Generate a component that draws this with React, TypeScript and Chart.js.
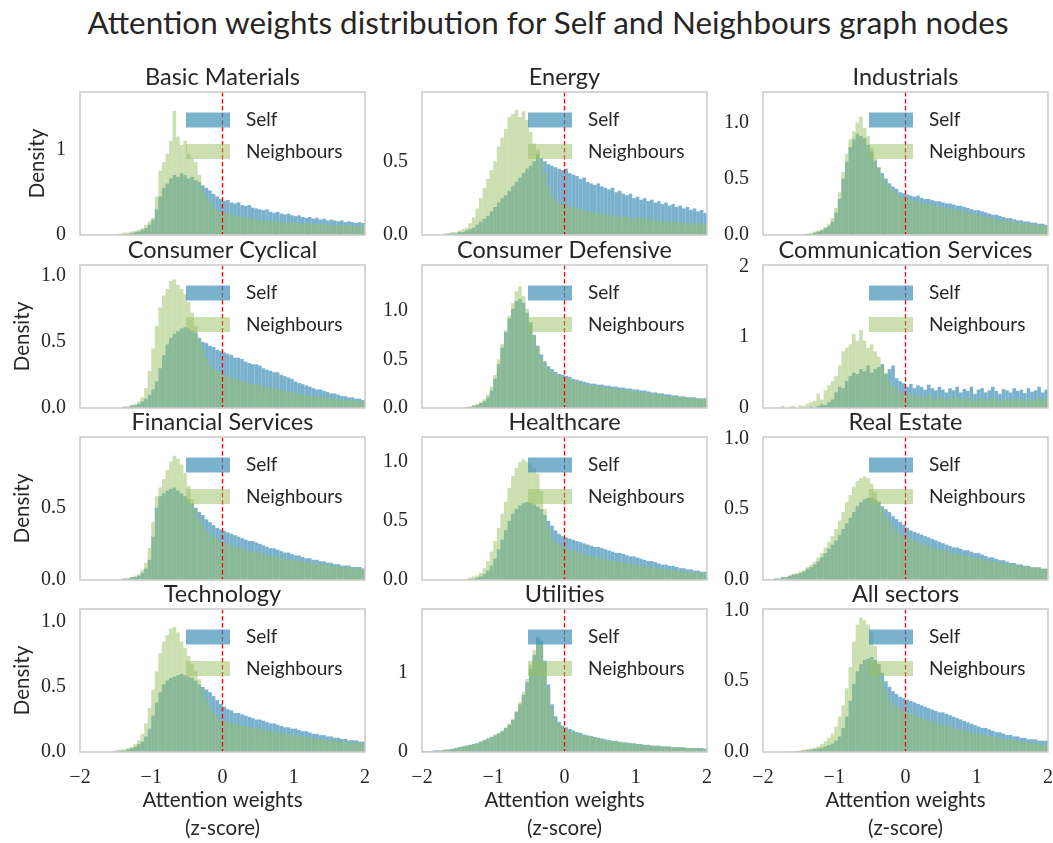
import React, { useEffect, useRef } from 'react';
import { Chart, registerables } from 'chart.js';

Chart.register(...registerables);

// ---------- data ----------
const binStart = -2;
const binWidth = 0.05;
const xMin = -2;
const xMax = 2;
const xStep = 1;

const sectorNames = [
  'Basic Materials', 'Energy', 'Industrials',
  'Consumer Cyclical', 'Consumer Defensive', 'Communication Services',
  'Financial Services', 'Healthcare', 'Real Estate',
  'Technology', 'Utilities', 'All sectors',
];
const seriesLabels = ['Self', 'Neighbours'];

const yMaxes = [1.67, 0.97, 1.27, 1.08, 1.47, 2.02, 0.99, 1.21, 1.01, 1.1, 1.8, 1.01];
const ySteps = [1, 0.5, 0.5, 0.5, 0.5, 1, 0.5, 0.5, 0.5, 0.5, 1, 0.5];
const yDecimals = [0, 1, 1, 1, 1, 0, 1, 1, 1, 1, 0, 1];

const basicMaterialsSelf = [
  0, 0, 0, 0, 0, 0, 0, 0, 0, 0,
  0, 0, 0.01, 0.01, 0.02, 0.03, 0.04, 0.06, 0.08, 0.12,
  0.18, 0.3, 0.45, 0.55, 0.6, 0.66, 0.7, 0.68, 0.72, 0.7,
  0.66, 0.68, 0.64, 0.62, 0.58, 0.55, 0.52, 0.48, 0.45, 0.42,
  0.4, 0.41, 0.38, 0.37, 0.38, 0.35, 0.34, 0.35, 0.32, 0.31,
  0.3, 0.29, 0.3, 0.27, 0.26, 0.27, 0.25, 0.24, 0.25, 0.23,
  0.22, 0.23, 0.21, 0.2, 0.21, 0.19, 0.2, 0.18, 0.19, 0.17,
  0.18, 0.17, 0.16, 0.17, 0.15, 0.16, 0.15, 0.14, 0.15, 0.14,
];
const basicMaterialsNeighbours = [
  0, 0, 0, 0, 0, 0, 0, 0, 0, 0,
  0.01, 0.02, 0.03, 0.03, 0.04, 0.05, 0.06, 0.08, 0.12, 0.16,
  0.2, 0.45, 0.75, 0.85, 0.95, 1.1, 1.45, 1.15, 1.05, 1.1,
  0.95, 0.9, 0.85, 0.7, 0.52, 0.45, 0.38, 0.33, 0.3, 0.27,
  0.26, 0.25, 0.24, 0.22, 0.23, 0.21, 0.2, 0.2, 0.19, 0.18,
  0.18, 0.17, 0.17, 0.16, 0.16, 0.15, 0.16, 0.15, 0.14, 0.15,
  0.14, 0.14, 0.13, 0.14, 0.13, 0.13, 0.12, 0.13, 0.12, 0.12,
  0.12, 0.11, 0.12, 0.11, 0.11, 0.12, 0.11, 0.1, 0.11, 0.1,
];
const energySelf = [
  0, 0, 0, 0, 0, 0, 0, 0.01, 0.01, 0.01,
  0.02, 0.02, 0.03, 0.04, 0.05, 0.07, 0.09, 0.11, 0.13, 0.16,
  0.19, 0.22, 0.25, 0.27, 0.3, 0.33, 0.36, 0.39, 0.42, 0.45,
  0.47, 0.5, 0.55, 0.52, 0.5, 0.48, 0.47, 0.46, 0.45, 0.44,
  0.45, 0.42, 0.41, 0.4, 0.38, 0.39, 0.36, 0.35, 0.34, 0.35,
  0.33, 0.32, 0.31, 0.32, 0.29, 0.3, 0.28, 0.27, 0.28, 0.25,
  0.26, 0.24, 0.25, 0.23, 0.24, 0.22, 0.23, 0.21, 0.22, 0.2,
  0.21, 0.19, 0.2, 0.18, 0.19, 0.17, 0.18, 0.16, 0.17, 0.15,
];
const energyNeighbours = [
  0, 0, 0, 0, 0, 0, 0.01, 0.01, 0.02, 0.02,
  0.03, 0.04, 0.05, 0.08, 0.12, 0.18, 0.25, 0.32, 0.38, 0.44,
  0.5, 0.6, 0.66, 0.72, 0.8, 0.82, 0.85, 0.8, 0.84, 0.78,
  0.7, 0.62, 0.58, 0.5, 0.42, 0.33, 0.27, 0.24, 0.22, 0.21,
  0.2, 0.19, 0.19, 0.18, 0.17, 0.17, 0.16, 0.16, 0.15, 0.15,
  0.14, 0.14, 0.13, 0.14, 0.13, 0.12, 0.13, 0.12, 0.12, 0.11,
  0.12, 0.11, 0.11, 0.1, 0.11, 0.1, 0.1, 0.09, 0.1, 0.09,
  0.09, 0.09, 0.08, 0.09, 0.08, 0.08, 0.08, 0.07, 0.08, 0.07,
];
const industrialsSelf = [
  0, 0, 0, 0, 0, 0, 0, 0, 0, 0,
  0, 0, 0.01, 0.01, 0.02, 0.03, 0.04, 0.06, 0.08, 0.12,
  0.2, 0.32, 0.5, 0.65, 0.78, 0.85, 0.9, 0.88, 0.86, 0.8,
  0.74, 0.66, 0.6, 0.55, 0.5, 0.46, 0.43, 0.41, 0.38, 0.37,
  0.36, 0.35, 0.34, 0.35, 0.33, 0.32, 0.32, 0.31, 0.3, 0.3,
  0.29, 0.28, 0.28, 0.27, 0.26, 0.26, 0.25, 0.24, 0.23, 0.22,
  0.22, 0.21, 0.2, 0.19, 0.18, 0.18, 0.17, 0.16, 0.15, 0.15,
  0.14, 0.13, 0.13, 0.12, 0.12, 0.11, 0.11, 0.1, 0.1, 0.09,
];
const industrialsNeighbours = [
  0, 0, 0, 0, 0, 0, 0, 0, 0, 0,
  0, 0.01, 0.01, 0.02, 0.03, 0.04, 0.05, 0.07, 0.1, 0.15,
  0.24, 0.38, 0.56, 0.72, 0.85, 0.92, 1.0, 1.05, 0.95, 0.88,
  0.78, 0.68, 0.6, 0.53, 0.47, 0.43, 0.4, 0.37, 0.35, 0.33,
  0.32, 0.31, 0.3, 0.3, 0.29, 0.28, 0.27, 0.27, 0.26, 0.25,
  0.25, 0.24, 0.23, 0.23, 0.22, 0.21, 0.21, 0.2, 0.19, 0.18,
  0.18, 0.17, 0.16, 0.16, 0.15, 0.14, 0.14, 0.13, 0.13, 0.12,
  0.12, 0.11, 0.11, 0.1, 0.1, 0.1, 0.09, 0.09, 0.08, 0.08,
];
const consumerCyclicalSelf = [
  0, 0, 0, 0, 0, 0, 0, 0, 0, 0,
  0, 0, 0.01, 0.01, 0.02, 0.02, 0.03, 0.05, 0.07, 0.1,
  0.14, 0.2, 0.3, 0.4, 0.48, 0.53, 0.56, 0.58, 0.6, 0.61,
  0.6, 0.58, 0.57, 0.53, 0.5, 0.49, 0.47, 0.46, 0.44, 0.43,
  0.42, 0.41, 0.4, 0.38, 0.38, 0.37, 0.35, 0.34, 0.33, 0.33,
  0.32, 0.3, 0.29, 0.28, 0.27, 0.27, 0.25, 0.24, 0.23, 0.22,
  0.2, 0.19, 0.18, 0.17, 0.16, 0.15, 0.14, 0.14, 0.13, 0.12,
  0.11, 0.11, 0.1, 0.09, 0.09, 0.08, 0.08, 0.07, 0.07, 0.06,
];
const consumerCyclicalNeighbours = [
  0, 0, 0, 0, 0, 0, 0, 0, 0, 0,
  0, 0, 0.01, 0.01, 0.02, 0.03, 0.05, 0.08, 0.15, 0.28,
  0.45, 0.62, 0.76, 0.85, 0.9, 0.96, 0.97, 0.93, 0.9, 0.86,
  0.8, 0.72, 0.62, 0.52, 0.44, 0.38, 0.33, 0.3, 0.28, 0.26,
  0.25, 0.24, 0.23, 0.22, 0.21, 0.2, 0.2, 0.19, 0.18, 0.18,
  0.17, 0.16, 0.16, 0.15, 0.15, 0.14, 0.14, 0.13, 0.12, 0.12,
  0.11, 0.11, 0.1, 0.1, 0.09, 0.09, 0.09, 0.08, 0.08, 0.08,
  0.07, 0.07, 0.07, 0.06, 0.06, 0.06, 0.06, 0.05, 0.05, 0.05,
];
const consumerDefensiveSelf = [
  0, 0, 0, 0, 0, 0, 0, 0, 0, 0,
  0, 0, 0.01, 0.01, 0.02, 0.03, 0.05, 0.07, 0.11, 0.18,
  0.3, 0.45, 0.62, 0.78, 0.92, 1.02, 1.1, 1.12, 1.08, 0.98,
  0.88, 0.75, 0.64, 0.55, 0.48, 0.43, 0.4, 0.37, 0.35, 0.34,
  0.33, 0.32, 0.3, 0.29, 0.28, 0.27, 0.26, 0.25, 0.25, 0.24,
  0.24, 0.23, 0.23, 0.22, 0.22, 0.21, 0.21, 0.2, 0.2, 0.19,
  0.19, 0.18, 0.18, 0.17, 0.16, 0.16, 0.15, 0.15, 0.14, 0.14,
  0.13, 0.13, 0.12, 0.12, 0.11, 0.11, 0.11, 0.1, 0.1, 0.1,
];
const consumerDefensiveNeighbours = [
  0, 0, 0, 0, 0, 0, 0, 0, 0, 0,
  0, 0, 0.01, 0.02, 0.03, 0.04, 0.06, 0.09, 0.14, 0.22,
  0.34, 0.5, 0.66, 0.8, 0.95, 1.08, 1.2, 1.25, 1.15, 1.02,
  0.88, 0.74, 0.62, 0.52, 0.45, 0.4, 0.37, 0.35, 0.33, 0.32,
  0.31, 0.3, 0.28, 0.27, 0.26, 0.25, 0.24, 0.24, 0.23, 0.22,
  0.22, 0.21, 0.21, 0.2, 0.2, 0.19, 0.19, 0.18, 0.18, 0.17,
  0.17, 0.16, 0.16, 0.15, 0.15, 0.14, 0.14, 0.13, 0.13, 0.12,
  0.12, 0.12, 0.11, 0.11, 0.11, 0.1, 0.1, 0.1, 0.09, 0.09,
];
const communicationSelf = [
  0, 0, 0, 0, 0, 0, 0, 0, 0, 0,
  0, 0, 0, 0.02, 0, 0.03, 0.05, 0.04, 0.08, 0.12,
  0.22, 0.3, 0.28, 0.38, 0.45, 0.5, 0.48, 0.55, 0.52, 0.6,
  0.5, 0.55, 0.58, 0.62, 0.48, 0.55, 0.6, 0.42, 0.38, 0.35,
  0.3, 0.34, 0.28, 0.32, 0.3, 0.26, 0.33, 0.28, 0.25, 0.3,
  0.26, 0.22, 0.28, 0.25, 0.3, 0.22, 0.27, 0.24, 0.3, 0.2,
  0.26, 0.28, 0.22, 0.25, 0.3, 0.24, 0.2, 0.27, 0.25, 0.22,
  0.28, 0.24, 0.26, 0.21, 0.28, 0.23, 0.25, 0.3, 0.22, 0.26,
];
const communicationNeighbours = [
  0, 0, 0, 0, 0, 0.03, 0, 0.02, 0.03, 0,
  0.04, 0.03, 0.06, 0.08, 0.1, 0.2, 0.12, 0.25, 0.32, 0.38,
  0.45, 0.6, 0.8, 0.85, 0.9, 1.05, 0.95, 1.1, 0.95, 0.85,
  0.9, 0.8, 0.72, 0.6, 0.5, 0.38, 0.3, 0.28, 0.22, 0.2,
  0.18, 0.2, 0.15, 0.18, 0.16, 0.14, 0.18, 0.15, 0.12, 0.16,
  0.14, 0.12, 0.15, 0.13, 0.16, 0.12, 0.14, 0.12, 0.15, 0.1,
  0.13, 0.14, 0.11, 0.13, 0.15, 0.12, 0.1, 0.13, 0.12, 0.11,
  0.14, 0.12, 0.13, 0.1, 0.14, 0.11, 0.12, 0.15, 0.11, 0.13,
];
const financialSelf = [
  0, 0, 0, 0, 0, 0, 0, 0, 0, 0,
  0, 0, 0.01, 0.01, 0.02, 0.02, 0.03, 0.05, 0.08, 0.14,
  0.3, 0.5, 0.58, 0.6, 0.62, 0.63, 0.64, 0.62, 0.6, 0.58,
  0.56, 0.53, 0.5, 0.47, 0.45, 0.42, 0.4, 0.38, 0.36, 0.35,
  0.34, 0.33, 0.32, 0.31, 0.3, 0.29, 0.28, 0.27, 0.27, 0.26,
  0.25, 0.24, 0.23, 0.22, 0.22, 0.21, 0.2, 0.19, 0.19, 0.18,
  0.17, 0.17, 0.16, 0.15, 0.15, 0.14, 0.14, 0.13, 0.13, 0.12,
  0.12, 0.11, 0.11, 0.1, 0.1, 0.1, 0.09, 0.09, 0.09, 0.08,
];
const financialNeighbours = [
  0, 0, 0, 0, 0, 0, 0, 0, 0, 0,
  0, 0, 0.01, 0.01, 0.02, 0.03, 0.04, 0.07, 0.12, 0.22,
  0.4, 0.58, 0.64, 0.7, 0.76, 0.82, 0.86, 0.84, 0.8, 0.74,
  0.65, 0.56, 0.48, 0.42, 0.38, 0.35, 0.32, 0.3, 0.28, 0.27,
  0.26, 0.25, 0.24, 0.23, 0.22, 0.22, 0.21, 0.2, 0.2, 0.19,
  0.19, 0.18, 0.17, 0.17, 0.16, 0.16, 0.15, 0.15, 0.14, 0.14,
  0.14, 0.13, 0.13, 0.12, 0.12, 0.12, 0.11, 0.11, 0.11, 0.1,
  0.1, 0.1, 0.1, 0.09, 0.09, 0.09, 0.09, 0.08, 0.08, 0.08,
];
const healthcareSelf = [
  0, 0, 0, 0, 0, 0, 0, 0, 0, 0,
  0, 0, 0, 0.01, 0.01, 0.02, 0.03, 0.05, 0.08, 0.12,
  0.18, 0.26, 0.34, 0.42, 0.5, 0.56, 0.6, 0.63, 0.65, 0.66,
  0.65, 0.64, 0.62, 0.6, 0.55, 0.5, 0.46, 0.42, 0.39, 0.37,
  0.36, 0.35, 0.34, 0.33, 0.32, 0.31, 0.3, 0.29, 0.28, 0.28,
  0.27, 0.26, 0.25, 0.24, 0.23, 0.23, 0.22, 0.21, 0.2, 0.2,
  0.19, 0.18, 0.17, 0.16, 0.16, 0.15, 0.14, 0.13, 0.13, 0.12,
  0.12, 0.11, 0.1, 0.1, 0.09, 0.09, 0.08, 0.08, 0.07, 0.07,
];
const healthcareNeighbours = [
  0, 0, 0, 0, 0, 0, 0, 0, 0, 0,
  0, 0, 0.01, 0.02, 0.03, 0.04, 0.06, 0.1, 0.16, 0.24,
  0.33, 0.44, 0.56, 0.66, 0.78, 0.88, 0.95, 1.0, 1.02, 1.0,
  0.98, 0.95, 0.9, 0.75, 0.6, 0.45, 0.36, 0.32, 0.3, 0.28,
  0.27, 0.26, 0.25, 0.24, 0.23, 0.22, 0.21, 0.2, 0.2, 0.19,
  0.18, 0.18, 0.17, 0.16, 0.16, 0.15, 0.15, 0.14, 0.14, 0.13,
  0.13, 0.12, 0.12, 0.11, 0.11, 0.1, 0.1, 0.09, 0.09, 0.09,
  0.08, 0.08, 0.08, 0.07, 0.07, 0.07, 0.06, 0.06, 0.06, 0.06,
];
const realEstateSelf = [
  0, 0, 0, 0.01, 0.01, 0.02, 0.02, 0.03, 0.04, 0.04,
  0.05, 0.06, 0.08, 0.09, 0.11, 0.13, 0.16, 0.19, 0.22, 0.25,
  0.28, 0.32, 0.36, 0.4, 0.44, 0.48, 0.52, 0.55, 0.57, 0.58,
  0.58, 0.57, 0.55, 0.52, 0.5, 0.48, 0.45, 0.43, 0.41, 0.39,
  0.37, 0.35, 0.34, 0.33, 0.32, 0.31, 0.3, 0.29, 0.28, 0.27,
  0.26, 0.25, 0.24, 0.23, 0.23, 0.22, 0.21, 0.21, 0.2, 0.19,
  0.19, 0.18, 0.17, 0.16, 0.16, 0.15, 0.14, 0.14, 0.13, 0.12,
  0.12, 0.11, 0.11, 0.1, 0.1, 0.09, 0.09, 0.09, 0.08, 0.08,
];
const realEstateNeighbours = [
  0, 0, 0, 0.01, 0.01, 0.02, 0.02, 0.03, 0.04, 0.05,
  0.06, 0.07, 0.09, 0.11, 0.13, 0.16, 0.19, 0.23, 0.27, 0.31,
  0.36, 0.42, 0.48, 0.55, 0.6, 0.66, 0.7, 0.72, 0.73, 0.72,
  0.68, 0.62, 0.56, 0.5, 0.45, 0.41, 0.38, 0.35, 0.33, 0.31,
  0.3, 0.29, 0.28, 0.27, 0.26, 0.25, 0.24, 0.23, 0.22, 0.22,
  0.21, 0.2, 0.2, 0.19, 0.18, 0.18, 0.17, 0.17, 0.16, 0.16,
  0.15, 0.15, 0.14, 0.14, 0.13, 0.13, 0.12, 0.12, 0.11, 0.11,
  0.11, 0.1, 0.1, 0.1, 0.09, 0.09, 0.09, 0.08, 0.08, 0.08,
];
const technologySelf = [
  0, 0, 0, 0, 0, 0, 0, 0, 0, 0,
  0.01, 0.01, 0.01, 0.02, 0.03, 0.04, 0.06, 0.08, 0.12, 0.18,
  0.28, 0.38, 0.46, 0.52, 0.55, 0.57, 0.58, 0.59, 0.6, 0.59,
  0.58, 0.57, 0.55, 0.52, 0.5, 0.48, 0.46, 0.43, 0.4, 0.37,
  0.35, 0.33, 0.32, 0.3, 0.3, 0.29, 0.28, 0.27, 0.26, 0.25,
  0.25, 0.24, 0.23, 0.22, 0.22, 0.21, 0.2, 0.19, 0.19, 0.18,
  0.18, 0.17, 0.16, 0.16, 0.15, 0.14, 0.14, 0.13, 0.13, 0.12,
  0.12, 0.11, 0.11, 0.1, 0.1, 0.09, 0.09, 0.09, 0.08, 0.08,
];
const technologyNeighbours = [
  0, 0, 0, 0, 0, 0, 0, 0, 0, 0.01,
  0.01, 0.02, 0.02, 0.03, 0.04, 0.06, 0.09, 0.14, 0.22, 0.34,
  0.48, 0.62, 0.76, 0.85, 0.9, 0.95, 0.96, 0.92, 0.85, 0.8,
  0.74, 0.68, 0.62, 0.56, 0.48, 0.4, 0.34, 0.3, 0.27, 0.25,
  0.24, 0.23, 0.22, 0.21, 0.21, 0.2, 0.2, 0.19, 0.19, 0.18,
  0.18, 0.17, 0.17, 0.16, 0.16, 0.15, 0.15, 0.14, 0.14, 0.13,
  0.13, 0.12, 0.12, 0.12, 0.11, 0.11, 0.1, 0.1, 0.1, 0.09,
  0.09, 0.09, 0.08, 0.08, 0.08, 0.07, 0.07, 0.07, 0.07, 0.06,
];
const utilitiesSelf = [
  0.01, 0.01, 0.01, 0.02, 0.02, 0.02, 0.03, 0.03, 0.04, 0.05,
  0.06, 0.07, 0.08, 0.09, 0.1, 0.11, 0.13, 0.15, 0.17, 0.19,
  0.21, 0.23, 0.26, 0.3, 0.34, 0.4, 0.5, 0.6, 0.72, 0.88,
  1.05, 1.22, 1.42, 1.4, 1.15, 0.85, 0.6, 0.45, 0.38, 0.33,
  0.31, 0.29, 0.27, 0.25, 0.24, 0.22, 0.21, 0.2, 0.19, 0.18,
  0.17, 0.16, 0.15, 0.14, 0.14, 0.13, 0.12, 0.12, 0.11, 0.11,
  0.1, 0.1, 0.09, 0.09, 0.08, 0.08, 0.08, 0.07, 0.07, 0.07,
  0.06, 0.06, 0.06, 0.06, 0.05, 0.05, 0.05, 0.05, 0.05, 0.04,
];
const utilitiesNeighbours = [
  0.01, 0.01, 0.01, 0.01, 0.02, 0.02, 0.03, 0.03, 0.04, 0.05,
  0.06, 0.07, 0.08, 0.09, 0.1, 0.11, 0.13, 0.15, 0.17, 0.19,
  0.22, 0.24, 0.27, 0.31, 0.36, 0.42, 0.52, 0.63, 0.76, 0.92,
  1.1, 1.28, 1.45, 1.38, 1.1, 0.8, 0.56, 0.42, 0.35, 0.31,
  0.28, 0.26, 0.25, 0.23, 0.22, 0.21, 0.2, 0.19, 0.18, 0.17,
  0.16, 0.15, 0.14, 0.14, 0.13, 0.12, 0.12, 0.11, 0.11, 0.1,
  0.1, 0.09, 0.09, 0.09, 0.08, 0.08, 0.07, 0.07, 0.07, 0.06,
  0.06, 0.06, 0.06, 0.05, 0.05, 0.05, 0.05, 0.04, 0.04, 0.04,
];
const allSectorsSelf = [
  0, 0, 0, 0, 0, 0, 0, 0, 0.003, 0.005,
  0.007, 0.01, 0.012, 0.016, 0.02, 0.025, 0.03, 0.04, 0.05, 0.06,
  0.08, 0.11, 0.17, 0.25, 0.36, 0.48, 0.57, 0.62, 0.65, 0.66,
  0.67, 0.65, 0.62, 0.56, 0.5, 0.46, 0.43, 0.41, 0.39, 0.38,
  0.37, 0.36, 0.35, 0.34, 0.33, 0.32, 0.31, 0.3, 0.29, 0.28,
  0.28, 0.27, 0.26, 0.25, 0.24, 0.23, 0.22, 0.21, 0.2, 0.19,
  0.18, 0.17, 0.17, 0.16, 0.15, 0.14, 0.14, 0.13, 0.12, 0.12,
  0.11, 0.11, 0.1, 0.1, 0.09, 0.09, 0.09, 0.08, 0.08, 0.08,
];
const allSectorsNeighbours = [
  0, 0, 0, 0, 0, 0, 0.003, 0.004, 0.006, 0.008,
  0.011, 0.015, 0.02, 0.025, 0.03, 0.04, 0.055, 0.075, 0.1, 0.13,
  0.18, 0.25, 0.33, 0.45, 0.6, 0.78, 0.9, 0.95, 0.93, 0.9,
  0.85, 0.75, 0.62, 0.51, 0.43, 0.37, 0.34, 0.32, 0.3, 0.29,
  0.28, 0.27, 0.26, 0.25, 0.24, 0.23, 0.22, 0.21, 0.21, 0.2,
  0.19, 0.18, 0.18, 0.17, 0.16, 0.16, 0.15, 0.14, 0.14, 0.13,
  0.13, 0.12, 0.12, 0.11, 0.11, 0.1, 0.1, 0.09, 0.09, 0.09,
  0.08, 0.08, 0.07, 0.07, 0.07, 0.06, 0.06, 0.06, 0.05, 0.05,
];

const selfSeries = [
  basicMaterialsSelf, energySelf, industrialsSelf,
  consumerCyclicalSelf, consumerDefensiveSelf, communicationSelf,
  financialSelf, healthcareSelf, realEstateSelf,
  technologySelf, utilitiesSelf, allSectorsSelf,
];
const neighbourSeries = [
  basicMaterialsNeighbours, energyNeighbours, industrialsNeighbours,
  consumerCyclicalNeighbours, consumerDefensiveNeighbours, communicationNeighbours,
  financialNeighbours, healthcareNeighbours, realEstateNeighbours,
  technologyNeighbours, utilitiesNeighbours, allSectorsNeighbours,
];

// ---------- style / layout ----------
const SELF_COLOR = 'rgba(66,145,184,0.7)';
const NEIGH_COLOR = 'rgba(151,191,97,0.5)';
const TEXT_COLOR = '#262626';
const SANS = 'Lato';
const SERIF = '"Liberation Serif", serif';

const PLOT_LEFTS = [80, 422, 763];
const PLOT_TOPS = [92, 265, 437, 609];
const PLOT_W = 285;
const PLOT_H = 143;
const Y_AXIS_W = 80;
const TITLE_BOX = 33;
const PAD_RIGHT = 26;
const PAD_BOTTOM = 32;
const X_AXIS_H = 91;

const decorPlugin = {
  id: 'panelDecor',
  afterDatasetsDraw(chart: any) {
    const { ctx, chartArea: a, scales } = chart;
    const x0 = scales.x.getPixelForValue(0);
    ctx.save();
    ctx.strokeStyle = '#ff0000';
    ctx.lineWidth = 1.3;
    ctx.setLineDash([4.5, 2.5]);
    ctx.beginPath();
    ctx.moveTo(x0, a.top);
    ctx.lineTo(x0, a.bottom);
    ctx.stroke();
    ctx.restore();
  },
  afterDraw(chart: any, _args: any, opts: any) {
    const { ctx, chartArea: a } = chart;
    ctx.save();
    ctx.fillStyle = TEXT_COLOR;
    ctx.font = `23.5px ${SANS}`;
    ctx.textAlign = 'center';
    ctx.textBaseline = 'middle';
    ctx.fillText(opts.title, (a.left + a.right) / 2, a.top - 15);
    chart.data.datasets.forEach((ds: any, k: number) => {
      const cy = a.top + 28 + k * 31.5;
      ctx.fillStyle = ds.backgroundColor;
      ctx.fillRect(a.left + 106, cy - 7.5, 44, 15);
      ctx.fillStyle = TEXT_COLOR;
      ctx.font = `19px ${SANS}`;
      ctx.textBaseline = 'middle';
      ctx.textAlign = 'left';
      ctx.fillText(ds.label, a.left + 166, cy);
    });
    ctx.strokeStyle = '#cccccc';
    ctx.lineWidth = 1.6;
    ctx.strokeRect(a.left, a.top, a.right - a.left, a.bottom - a.top);
    ctx.restore();
  },
};

function Panel({ index }: { index: number }) {
  const ref = useRef<HTMLCanvasElement | null>(null);
  const row = Math.floor(index / 3);
  const col = index % 3;
  const isBottom = row === 3;
  const isLeft = col === 0;
  const left = PLOT_LEFTS[col] - Y_AXIS_W;
  const top = PLOT_TOPS[row] - TITLE_BOX;
  const width = Y_AXIS_W + PLOT_W + PAD_RIGHT;
  const height = TITLE_BOX + PLOT_H + (isBottom ? X_AXIS_H : PAD_BOTTOM);

  useEffect(() => {
    if (!ref.current) return;
    const toPoints = (arr: number[]) =>
      arr.map((y, i) => ({ x: binStart + binWidth * (i + 0.5), y }));
    const dec = yDecimals[index];
    const chart = new Chart(ref.current, {
      type: 'bar',
      data: {
        datasets: [
          {
            label: seriesLabels[0],
            data: toPoints(selfSeries[index]),
            backgroundColor: SELF_COLOR,
            borderWidth: 0,
            grouped: false,
            barPercentage: 1,
            categoryPercentage: 1,
            inflateAmount: 0,
            order: 2,
          } as any,
          {
            label: seriesLabels[1],
            data: toPoints(neighbourSeries[index]),
            backgroundColor: NEIGH_COLOR,
            borderWidth: 0,
            grouped: false,
            barPercentage: 1,
            categoryPercentage: 1,
            inflateAmount: 0,
            order: 1,
          } as any,
        ],
      },
      options: {
        animation: false,
        responsive: false,
        devicePixelRatio: 1,
        events: [],
        layout: {
          padding: {
            left: 0,
            top: TITLE_BOX,
            right: PAD_RIGHT,
            bottom: isBottom ? 0 : PAD_BOTTOM,
          },
        },
        plugins: {
          legend: { display: false },
          tooltip: { enabled: false },
          title: { display: false },
          panelDecor: { title: sectorNames[index] },
        },
        scales: {
          x: {
            type: 'linear',
            min: xMin,
            max: xMax,
            offset: false,
            grid: { display: false, drawTicks: false },
            border: { display: false },
            ticks: {
              display: isBottom,
              stepSize: xStep,
              padding: 14,
              color: TEXT_COLOR,
              font: { family: SERIF, size: 20 },
              callback: (v: any) => (Number(v) < 0 ? '\u2212' + Math.abs(Number(v)) : String(v)),
            },
            title: {
              display: isBottom,
              text: ['Attention weights', '(z-score)'],
              color: TEXT_COLOR,
              font: { family: SANS, size: 20.5, lineHeight: 28 / 20.5 },
              padding: { top: 0, bottom: 1 },
            },
            afterFit: (s: any) => {
              s.height = isBottom ? X_AXIS_H : 0;
            },
          },
          y: {
            type: 'linear',
            min: 0,
            max: yMaxes[index],
            grid: { display: false, drawTicks: false },
            border: { display: false },
            ticks: {
              stepSize: ySteps[index],
              includeBounds: false,
              padding: 14,
              color: TEXT_COLOR,
              font: { family: SERIF, size: 20 },
              callback: (v: any) => Number(v).toFixed(dec),
            },
            title: {
              display: isLeft,
              text: 'Density',
              color: TEXT_COLOR,
              font: { family: SANS, size: 20.5, lineHeight: 1.2 },
              padding: { top: row === 0 ? 24.7 : 9.7, bottom: 0 },
            },
            afterFit: (s: any) => {
              s.width = Y_AXIS_W;
            },
          },
        },
      } as any,
      plugins: [decorPlugin],
    });
    return () => chart.destroy();
  }, [index]);

  return (
    <canvas
      ref={ref}
      width={width}
      height={height}
      style={{ position: 'absolute', left, top, width, height }}
    />
  );
}

export default function App() {
  return (
    <div
      style={{
        position: 'absolute',
        left: 0,
        top: 0,
        width: 1053,
        height: 843,
        background: '#ffffff',
        overflow: 'hidden',
      }}
    >
      <div
        style={{
          position: 'absolute',
          left: 548,
          top: 5,
          transform: 'translateX(-50%)',
          whiteSpace: 'nowrap',
          fontFamily: SANS,
          fontSize: 31.4,
          lineHeight: '34px',
          color: TEXT_COLOR,
        }}
      >
        Attention weights distribution for Self and Neighbours graph nodes
      </div>
      {sectorNames.map((_, i) => (
        <Panel key={i} index={i} />
      ))}
    </div>
  );
}
